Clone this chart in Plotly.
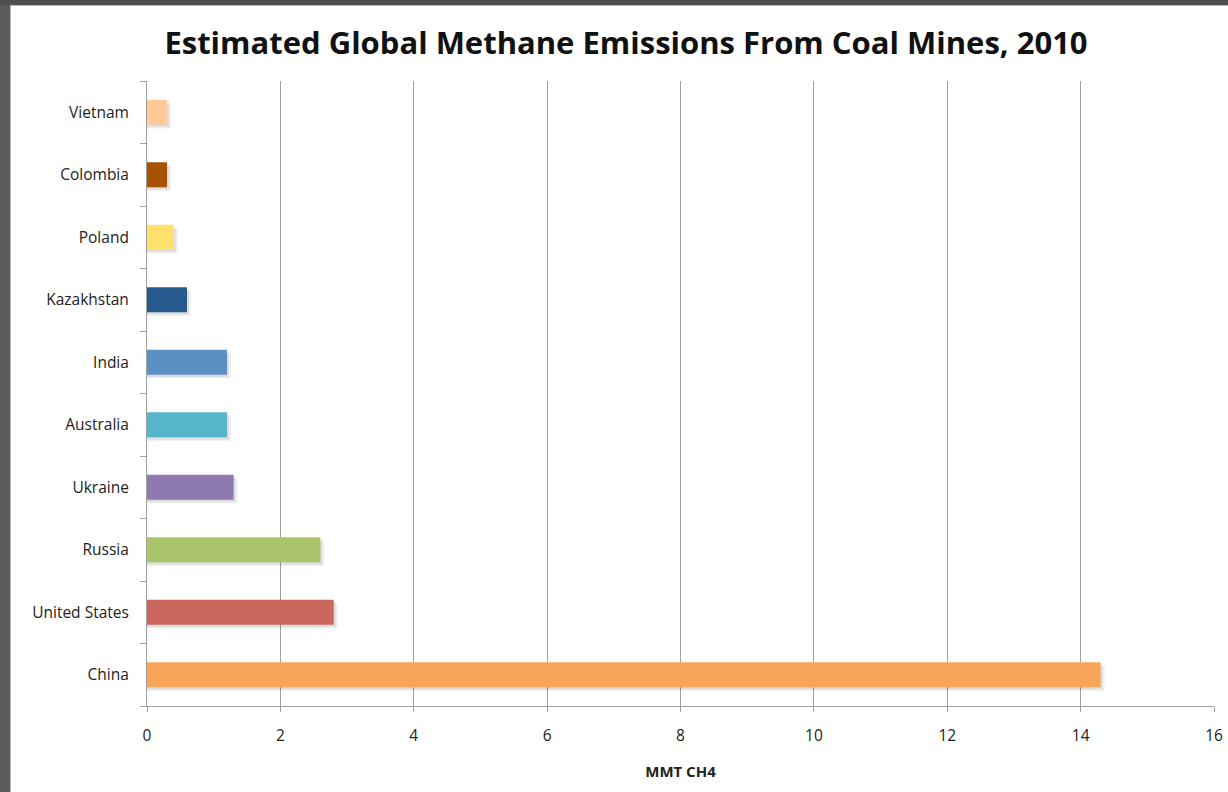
import plotly.graph_objects as go

# Coal-mine methane emissions, 2010 (MMT CH4), listed bottom to top
countries = ["China", "United States", "Russia", "Ukraine", "Australia",
             "India", "Kazakhstan", "Poland", "Colombia", "Vietnam"]
emissions = [14.3, 2.8, 2.6, 1.3, 1.2, 1.2, 0.6, 0.4, 0.3, 0.3]
bar_colors = ["#F8A55A", "#CB665D", "#AAC46A", "#8F7AB0", "#57B5CB",
              "#5B90C5", "#265A8F", "#FFE26E", "#A65300", "#FFC999"]
x_ticks = [0, 2, 4, 6, 8, 10, 12, 14, 16]

W, H = 1228, 792
L, R, T, B = 147, 14, 81, 86
pw, ph = W - L - R, H - T - B

bar_w = 0.4

fig = go.Figure()

# soft drop shadow under each bar (two faint layers)
for dx, dy, alpha in [(0.06, 0.06, 0.06), (0.03, 0.035, 0.08)]:
    fig.add_trace(go.Bar(
        y=countries, x=[v + dx for v in emissions], orientation="h",
        width=bar_w, offset=-bar_w / 2 - dy,
        marker=dict(color=f"rgba(0,0,0,{alpha})", line=dict(width=0)),
        hoverinfo="skip", showlegend=False,
    ))
fig.add_trace(go.Bar(
    y=countries, x=emissions, orientation="h",
    width=bar_w, offset=-bar_w / 2,
    marker=dict(color=bar_colors, line=dict(width=0)),
    showlegend=False,
))


def px_x(p):
    return (p - L) / pw


def px_y(p):
    return 1 - (p - T) / ph


shapes = [
    # dark window frame along the left and top edges
    dict(type="rect", xref="paper", yref="paper",
         x0=px_x(0), x1=px_x(10), y0=px_y(H), y1=px_y(0),
         fillcolor="#5a5a5a", line=dict(width=0), layer="above"),
    dict(type="rect", xref="paper", yref="paper",
         x0=px_x(0), x1=px_x(W), y0=px_y(5), y1=px_y(0),
         fillcolor="#4e4e4e", line=dict(width=0), layer="above"),
    dict(type="line", xref="paper", yref="paper",
         x0=px_x(10.5), x1=px_x(10.5), y0=px_y(H), y1=px_y(5),
         line=dict(color="#b8b8b8", width=1), layer="above"),
    dict(type="line", xref="paper", yref="paper",
         x0=px_x(10), x1=px_x(W), y0=px_y(5.5), y1=px_y(5.5),
         line=dict(color="#b8b8b8", width=1), layer="above"),
]

fig.update_layout(
    width=W, height=H, autosize=False,
    margin=dict(l=L, r=R, t=T, b=B, pad=0, autoexpand=False),
    paper_bgcolor="white", plot_bgcolor="white",
    barmode="overlay",
    title=dict(
        text="Estimated Global Methane Emissions From Coal Mines, 2010",
        x=626 / W, xanchor="center", y=1 - 43 / H, yanchor="middle",
        font=dict(family="Open Sans", size=31, color="#111111"),
    ),
    font=dict(family="Open Sans", color="#222222"),
    shapes=shapes,
)
fig.layout.title.font.weight = "bold"

fig.update_xaxes(
    range=[0, 16], tickvals=x_ticks, ticktext=[str(t) for t in x_ticks],
    showgrid=True, gridcolor="#a0a0a0", gridwidth=1,
    zeroline=False, showline=True, linecolor="#a0a0a0", linewidth=1,
    ticks="outside", ticklen=5, tickcolor="#a0a0a0",
    ticklabelstandoff=10, automargin=False,
    tickfont=dict(size=15.5, family="Open Sans", color="#222222"),
    title=dict(text="<b>MMT CH4</b>", standoff=21,
               font=dict(size=15, family="Open Sans", color="#222222")),
    fixedrange=True,
)
fig.update_yaxes(
    categoryorder="array", categoryarray=countries,
    range=[-0.5, 9.5],
    showgrid=False, zeroline=False,
    showline=True, linecolor="#a0a0a0", linewidth=1,
    ticks="outside", ticklen=6, tickcolor="#a0a0a0", tickson="boundaries",
    ticklabelstandoff=14, automargin=False,
    tickfont=dict(size=15.5, family="Open Sans", color="#222222"),
    fixedrange=True,
)

fig.write_html("out.html", config={"responsive": False})
